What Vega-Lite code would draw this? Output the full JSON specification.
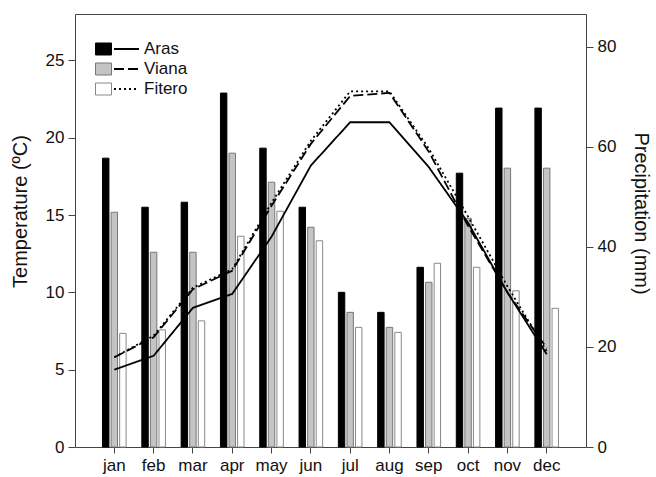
{
  "$schema": "https://vega.github.io/schema/vega-lite/v6.json",
  "width": 511,
  "height": 433,
  "autosize": {"type": "none"},
  "padding": {"left": 75, "top": 14, "right": 70, "bottom": 30},
  "background": "white",
  "config": {
    "font": "Liberation Sans",
    "view": {"stroke": "#444444", "strokeWidth": 1},
    "axis": {
      "grid": false,
      "domainColor": "#444444",
      "tickColor": "#444444",
      "tickSize": 7,
      "labelFontSize": 17,
      "labelColor": "#111111",
      "labelPadding": 4,
      "titleFontSize": 20,
      "titleFontWeight": "normal",
      "titleColor": "#111111"
    },
    "legend": {
      "labelFontSize": 17,
      "labelColor": "#111111",
      "padding": 0,
      "rowPadding": 2,
      "clipHeight": 18
    }
  },
  "datasets": {
    "precip": [
      {"month": "jan", "site": "Aras", "mm": 57.7},
      {"month": "jan", "site": "Viana", "mm": 46.9},
      {"month": "jan", "site": "Fitero", "mm": 22.7},
      {"month": "feb", "site": "Aras", "mm": 47.9},
      {"month": "feb", "site": "Viana", "mm": 38.9},
      {"month": "feb", "site": "Fitero", "mm": 23.4},
      {"month": "mar", "site": "Aras", "mm": 48.9},
      {"month": "mar", "site": "Viana", "mm": 38.9},
      {"month": "mar", "site": "Fitero", "mm": 25.2},
      {"month": "apr", "site": "Aras", "mm": 70.7},
      {"month": "apr", "site": "Viana", "mm": 58.7},
      {"month": "apr", "site": "Fitero", "mm": 42.1},
      {"month": "may", "site": "Aras", "mm": 59.7},
      {"month": "may", "site": "Viana", "mm": 52.9},
      {"month": "may", "site": "Fitero", "mm": 47.1},
      {"month": "jun", "site": "Aras", "mm": 47.9},
      {"month": "jun", "site": "Viana", "mm": 43.9},
      {"month": "jun", "site": "Fitero", "mm": 41.2},
      {"month": "jul", "site": "Aras", "mm": 30.9},
      {"month": "jul", "site": "Viana", "mm": 26.9},
      {"month": "jul", "site": "Fitero", "mm": 23.9},
      {"month": "aug", "site": "Aras", "mm": 26.9},
      {"month": "aug", "site": "Viana", "mm": 23.9},
      {"month": "aug", "site": "Fitero", "mm": 22.9},
      {"month": "sep", "site": "Aras", "mm": 35.9},
      {"month": "sep", "site": "Viana", "mm": 32.9},
      {"month": "sep", "site": "Fitero", "mm": 36.7},
      {"month": "oct", "site": "Aras", "mm": 54.7},
      {"month": "oct", "site": "Viana", "mm": 45.7},
      {"month": "oct", "site": "Fitero", "mm": 35.9},
      {"month": "nov", "site": "Aras", "mm": 67.7},
      {"month": "nov", "site": "Viana", "mm": 55.7},
      {"month": "nov", "site": "Fitero", "mm": 31.2},
      {"month": "dec", "site": "Aras", "mm": 67.7},
      {"month": "dec", "site": "Viana", "mm": 55.7},
      {"month": "dec", "site": "Fitero", "mm": 27.7}
    ],
    "temp": [
      {"month": "jan", "station": "Aras", "t": 5.0},
      {"month": "feb", "station": "Aras", "t": 5.9},
      {"month": "mar", "station": "Aras", "t": 9.0},
      {"month": "apr", "station": "Aras", "t": 9.9},
      {"month": "may", "station": "Aras", "t": 13.6},
      {"month": "jun", "station": "Aras", "t": 18.2},
      {"month": "jul", "station": "Aras", "t": 21.0},
      {"month": "aug", "station": "Aras", "t": 21.0},
      {"month": "sep", "station": "Aras", "t": 18.1},
      {"month": "oct", "station": "Aras", "t": 14.5},
      {"month": "nov", "station": "Aras", "t": 10.0},
      {"month": "dec", "station": "Aras", "t": 6.0},
      {"month": "jan", "station": "Viana", "t": 5.8},
      {"month": "feb", "station": "Viana", "t": 7.1},
      {"month": "mar", "station": "Viana", "t": 10.2},
      {"month": "apr", "station": "Viana", "t": 11.4},
      {"month": "may", "station": "Viana", "t": 15.6},
      {"month": "jun", "station": "Viana", "t": 19.6},
      {"month": "jul", "station": "Viana", "t": 22.7},
      {"month": "aug", "station": "Viana", "t": 22.9},
      {"month": "sep", "station": "Viana", "t": 19.1},
      {"month": "oct", "station": "Viana", "t": 14.3},
      {"month": "nov", "station": "Viana", "t": 10.0},
      {"month": "dec", "station": "Viana", "t": 6.4},
      {"month": "jan", "station": "Fitero", "t": 5.8},
      {"month": "feb", "station": "Fitero", "t": 7.2},
      {"month": "mar", "station": "Fitero", "t": 10.3},
      {"month": "apr", "station": "Fitero", "t": 11.5},
      {"month": "may", "station": "Fitero", "t": 15.8},
      {"month": "jun", "station": "Fitero", "t": 19.8},
      {"month": "jul", "station": "Fitero", "t": 23.0},
      {"month": "aug", "station": "Fitero", "t": 23.0},
      {"month": "sep", "station": "Fitero", "t": 19.3},
      {"month": "oct", "station": "Fitero", "t": 14.9},
      {"month": "nov", "station": "Fitero", "t": 10.4},
      {"month": "dec", "station": "Fitero", "t": 6.2}
    ]
  },
  "layer": [
    {
      "data": {"name": "precip"},
      "mark": {"type": "bar", "strokeWidth": 1},
      "encoding": {
        "x": {
          "field": "month",
          "type": "nominal",
          "sort": ["jan", "feb", "mar", "apr", "may", "jun", "jul", "aug", "sep", "oct", "nov", "dec"],
          "scale": {"paddingInner": 0.4, "paddingOuter": 0.7},
          "axis": {"title": null, "labelAngle": 0, "tickSize": 6, "domain": false}
        },
        "xOffset": {
          "field": "site",
          "type": "nominal",
          "sort": ["Aras", "Viana", "Fitero"],
          "scale": {"paddingInner": 0.25, "paddingOuter": 0}
        },
        "y": {
          "field": "mm",
          "type": "quantitative",
          "scale": {"domain": [0, 86.5], "nice": false},
          "axis": {"orient": "right", "values": [0, 20, 40, 60, 80], "title": "Precipitation (mm)", "titlePadding": 15, "titleY": 199, "domain": false}
        },
        "fill": {
          "field": "site",
          "type": "nominal",
          "scale": {"domain": ["Aras", "Viana", "Fitero"], "range": ["#000000", "#c4c4c4", "#ffffff"]},
          "legend": {
            "orient": "none", "legendX": 20, "legendY": 26, "title": null,
            "symbolType": "M-1,-0.75L1,-0.75L1,0.75L-1,0.75Z", "symbolSize": 256,
            "labelExpr": "''", "symbolStrokeWidth": 1, "symbolOpacity": 1
          }
        },
        "stroke": {
          "field": "site",
          "type": "nominal",
          "scale": {"domain": ["Aras", "Viana", "Fitero"], "range": ["#000000", "#777777", "#888888"]},
          "legend": {
            "orient": "none", "legendX": 20, "legendY": 26, "title": null,
            "symbolType": "M-1,-0.75L1,-0.75L1,0.75L-1,0.75Z", "symbolSize": 256,
            "labelExpr": "''", "symbolStrokeWidth": 1, "symbolOpacity": 1
          }
        }
      }
    },
    {
      "data": {"name": "temp"},
      "mark": {"type": "line", "color": "#000000", "strokeWidth": 1.8},
      "encoding": {
        "x": {
          "field": "month",
          "type": "nominal",
          "sort": ["jan", "feb", "mar", "apr", "may", "jun", "jul", "aug", "sep", "oct", "nov", "dec"]
        },
        "y": {
          "field": "t",
          "type": "quantitative",
          "scale": {"domain": [0, 28], "nice": false},
          "axis": {"orient": "left", "values": [0, 5, 10, 15, 20, 25], "title": "Temperature (ºC)", "titlePadding": 15, "titleY": 197, "domain": false}
        },
        "strokeDash": {
          "field": "station",
          "type": "nominal",
          "sort": ["Aras", "Viana", "Fitero"],
          "scale": {"range": [[1, 0], [10, 4], [2, 3]]},
          "legend": {
            "orient": "none", "legendX": 38, "legendY": 26, "title": null,
            "symbolType": "stroke", "symbolSize": 625, "symbolStrokeWidth": 1.8,
            "symbolStrokeColor": "#000000"
          }
        }
      }
    }
  ],
  "resolve": {"scale": {"y": "independent"}}
}
